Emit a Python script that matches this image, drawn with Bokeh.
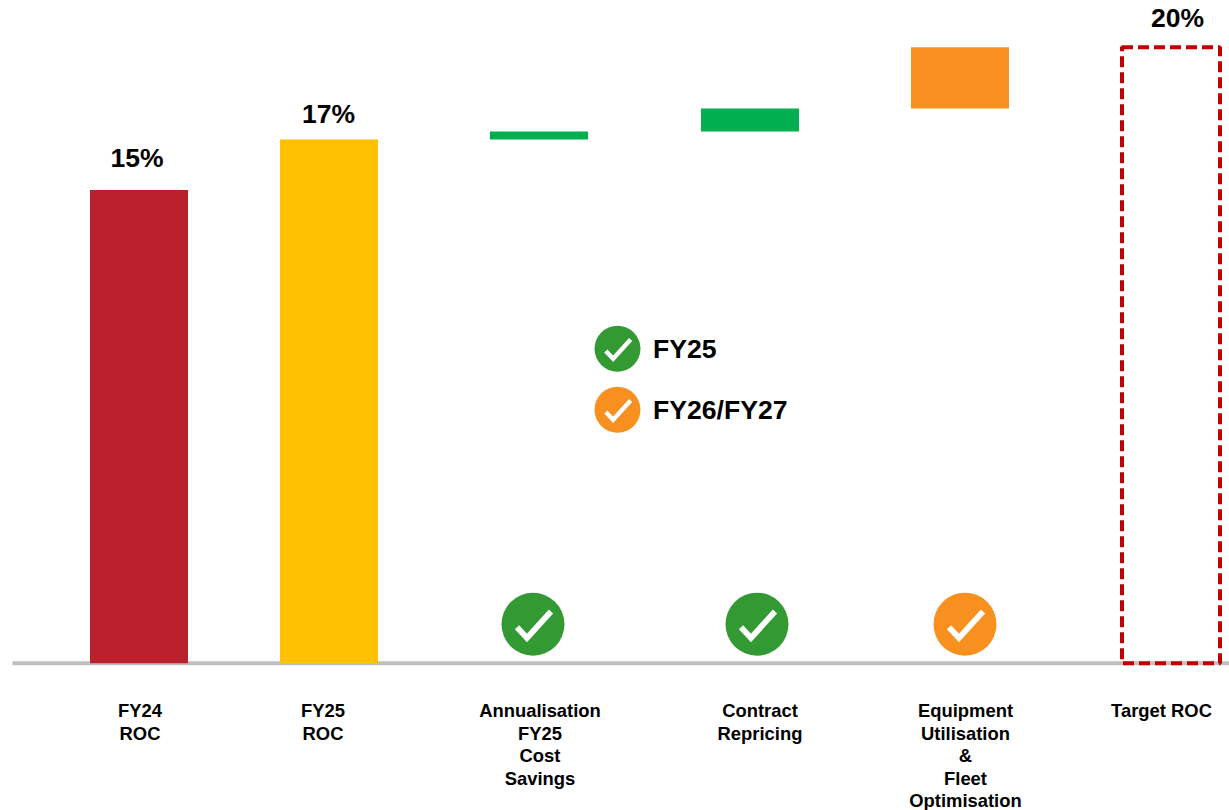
from bokeh.core.properties import value
from bokeh.embed import file_html
from bokeh.models import Range1d
from bokeh.plotting import figure
from bokeh.resources import INLINE

# Return-on-capital bridge, values in percent
roc_fy24 = 15.36
roc_fy25 = 17.0
step_names = ["Annualisation", "Contract", "Equipment"]
step_values = [0.26, 0.75, 1.99]
step_colors = ["#00B050", "#00B050", "#F7901E"]
roc_target = 20.0

category_labels = [
    ["FY24", "ROC"],
    ["FY25", "ROC"],
    ["Annualisation", "FY25", "Cost", "Savings"],
    ["Contract", "Repricing"],
    ["Equipment", "Utilisation", "&", "Fleet", "Optimisation"],
    ["Target ROC"],
]
legend_labels = ["FY25", "FY26/FY27"]

GREEN = "#339933"
ORANGE = "#F7901E"
FONT = value("Liberation Sans")

# Layout on a canvas measured in pixels horizontally, percent vertically
WIDTH, HEIGHT = 1229, 810
BASE_PX = 662.7
PX_PER_PCT = 30.8
BAR_W = 98
bar_x = [138.5, 328.5, 538.5, 749.5, 959.5, 1170.5]
label_x = [139.5, 322.5, 539.5, 759.5, 965, 1161]


def y_of(px):
    return (BASE_PX - px) / PX_PER_PCT


p = figure(
    width=WIDTH, height=HEIGHT, output_backend="svg", toolbar_location=None,
    x_range=Range1d(0, WIDTH), y_range=Range1d(y_of(HEIGHT), y_of(0)),
    min_border=0, outline_line_color=None, background_fill_color="white",
    x_axis_type=None, y_axis_type=None,
)
p.grid.visible = False

# Baseline
p.line([12, WIDTH], [0, 0], line_color="#BFBFBF", line_width=4)

# Solid totals
p.vbar(x=bar_x[:2], width=BAR_W, bottom=0, top=[roc_fy24, roc_fy25],
       fill_color=["#BB212D", "#FFC000"], line_color=None)

# Floating steps stacked on top of FY25
bottoms, tops, running = [], [], roc_fy25
for step in step_values:
    bottoms.append(running)
    running += step
    tops.append(running)
p.vbar(x=bar_x[2:5], width=BAR_W, bottom=bottoms, top=tops,
       fill_color=step_colors, line_color=None)

# Dashed outline for the target
p.quad(left=bar_x[5] - BAR_W / 2, right=bar_x[5] + BAR_W / 2, bottom=0, top=roc_target,
       fill_color=None, line_color="#C00000", line_width=4, line_dash="11 5")

# Value labels above the totals
totals = [roc_fy24, roc_fy25, roc_target]
p.text(x=[136.5, 328, 1177], y=totals, text=[f"{v:.0f}%" for v in totals],
       y_offset=[-32, -25.5, -29], text_font=FONT, text_font_size="26.5px",
       text_font_style="bold", text_color="black", text_align="center",
       text_baseline="middle")

# Category captions
cap_x, cap_y, cap_t = [], [], []
for cx, lines in zip(label_x, category_labels):
    for i, line in enumerate(lines):
        cap_x.append(cx)
        cap_y.append(y_of(710.2 + i * 22.5))
        cap_t.append(line)
p.text(x=cap_x, y=cap_y, text=cap_t, text_font=FONT, text_font_size="18.4px",
       text_font_style="bold", text_color="black", text_align="center",
       text_baseline="middle")


def badge(cx, cy_px, radius, color):
    """Filled circle with a white tick, sized from its radius in pixels."""
    p.circle(x=[cx], y=[y_of(cy_px)], radius=radius, radius_units="screen",
             fill_color=color, line_color=None)
    k = radius / 31.5
    xs = [cx - 16 * k, cx - 6 * k, cx + 18 * k]
    ys = [y_of(cy_px + d * k) for d in (3, 13.7, -12.7)]
    p.line(xs, ys, line_color="white", line_width=5.5 * k + 0.3, line_join="miter")


# Status badges above the baseline
for cx, color in zip([532.5, 756.5, 964.5], [GREEN, GREEN, ORANGE]):
    badge(cx, 623.7, 31.5, color)

# Legend in the middle of the chart
for cy, color, label in zip([348.3, 409.3], [GREEN, ORANGE], legend_labels):
    badge(617, cy, 23, color)
    p.text(x=[652.5], y=[y_of(cy)], text=[label], text_font=FONT, text_font_size="26.6px",
           text_font_style="bold", text_color="black", text_align="left",
           text_baseline="middle")

open("out.html", "w").write(file_html(p, INLINE))
